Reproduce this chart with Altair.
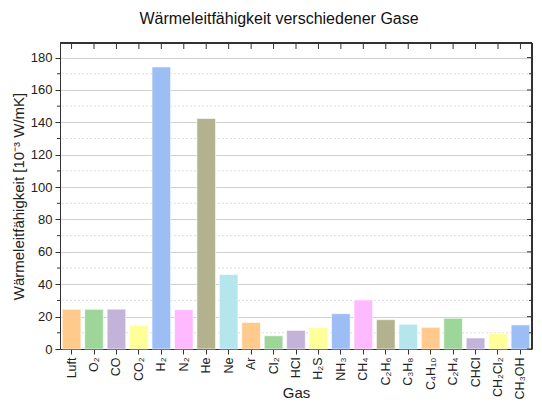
import altair as alt
import pandas as pd

gases = ["Luft", "O₂", "CO", "CO₂", "H₂", "N₂", "He", "Ne", "Ar", "Cl₂", "HCl", "H₂S",
         "NH₃", "CH₄", "C₂H₆", "C₃H₈", "C₄H₁₀", "C₂H₄", "CHCl", "CH₂Cl₂", "CH₃OH"]
values = [24.5, 24.5, 24.6, 14.6, 174.2, 24.3, 142.4, 46.0, 16.4, 8.2, 11.5, 13.2,
          21.8, 30.3, 18.1, 15.3, 13.4, 19.0, 6.8, 9.7, 14.9]
palette = ["#FFCA8C", "#9ED69A", "#C3B3D8", "#FFFF9A", "#9DBEF5", "#FFBAFF", "#B2B28F", "#B4E6EC"]
colors = [palette[i % len(palette)] for i in range(len(gases))]
major_ticks = [0, 20, 40, 60, 80, 100, 120, 140, 160, 180]
minor_ticks = [10, 30, 50, 70, 90, 110, 130, 150, 170]

df = pd.DataFrame({"Gas": gases, "Wert": values, "Farbe": colors})
mg = pd.DataFrame({"v": minor_ticks})
mj = pd.DataFrame({"v": major_ticks})

FONT = "Liberation Sans"
ymax = 189
W, H = 472, 306
yscale = alt.Scale(domain=[0, ymax], nice=False)
y_axis = alt.Axis(title="Wärmeleitfähigkeit [10⁻³ W/mK]", values=major_ticks,
                  labelFontSize=13, labelColor="#222", titleFontSize=15,
                  titleFontWeight="normal", titleColor="#222", tickSize=5,
                  tickColor="#333", domainColor="#333", grid=True, gridColor="#d0d0d0",
                  gridWidth=1, titlePadding=4, labelPadding=3, labelOverlap=False)

x_enc = alt.X("Gas:N", sort=gases, scale=alt.Scale(paddingInner=0.17, paddingOuter=0.1),
              axis=alt.Axis(title="Gas", labelAngle=-90, labelFontSize=12.5, labelColor="#222",
                            titleFontSize=15, titleFontWeight="normal", titleColor="#222",
                            labelPadding=3, tickSize=5, tickColor="#333", domainColor="#333",
                            titleY=48, titleBaseline="alphabetic", grid=False,
                            labelBaseline="middle", labelAlign="right"))

def yv(field):
    return alt.Y(field, scale=yscale, axis=y_axis, title="Wärmeleitfähigkeit [10⁻³ W/mK]")

minor = alt.Chart(mg).mark_rule(color="#dddddd", strokeDash=[2, 2], strokeWidth=1).encode(
    y=yv("v:Q")
)

bars = alt.Chart(df).mark_bar(stroke="white", strokeWidth=1, strokeOpacity=0.6).encode(
    x=x_enc,
    y=yv("Wert:Q"),
    color=alt.Color("Farbe:N", scale=None),
)

left_minor = alt.Chart(mg).mark_rule(color="#333", strokeWidth=1).encode(
    y=yv("v:Q"), x=alt.value(-3), x2=alt.value(0)
)
right_major = alt.Chart(mj).mark_rule(color="#333", strokeWidth=1).encode(
    y=yv("v:Q"), x=alt.value(W - 5), x2=alt.value(W)
)
right_minor = alt.Chart(mg).mark_rule(color="#333", strokeWidth=1).encode(
    y=yv("v:Q"), x=alt.value(W - 3), x2=alt.value(W)
)
top_ticks = alt.Chart(df).mark_rule(color="#333", strokeWidth=1).encode(
    x=alt.X("Gas:N", sort=gases), y=alt.value(0), y2=alt.value(6)
)
frame_top = alt.Chart(df).mark_rule(color="#333", strokeWidth=1).encode(
    x=alt.value(0), x2=alt.value(W), y=alt.value(0)
)
frame_right = alt.Chart(df).mark_rule(color="#333", strokeWidth=1).encode(
    x=alt.value(W), y=alt.value(0), y2=alt.value(H)
)

chart = alt.layer(minor, bars, left_minor, right_major, right_minor, top_ticks,
                  frame_top, frame_right).properties(
    width=W, height=H,
    title=alt.TitleParams("Wärmeleitfähigkeit verschiedener Gase", fontSize=16,
                          fontWeight="normal", color="#111", anchor="middle", dx=-17, offset=16),
    autosize=alt.AutoSizeParams(type="none"),
    padding={"left": 52, "top": 35, "right": 2, "bottom": 50},
).configure(font=FONT).configure_view(stroke=None)

chart.save("out.html", embed_options={"renderer": "svg", "actions": False})
